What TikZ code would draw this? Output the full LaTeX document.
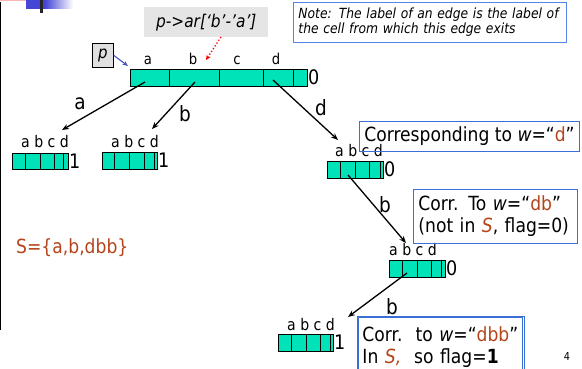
\documentclass[tikz,border=0pt]{standalone}
\usepackage{fontspec}
\setmainfont{DejaVu Sans}[FakeStretch=0.88]
\usetikzlibrary{arrows.meta}
\definecolor{teal}{HTML}{00E3B8}
\definecolor{brn}{HTML}{B5441B}
\definecolor{bxblue}{HTML}{3A6FD8}
\definecolor{noteblue}{HTML}{5585E5}
\definecolor{decoblue}{HTML}{4646D6}
\definecolor{decopink}{HTML}{F7B5B5}
\definecolor{pblue}{HTML}{4A55B5}
\newcommand\fs[2]{\fontsize{#1}{#2}\selectfont}
\newcommand\mkarr[9]{%
  \foreach \i/\l/\r in {a/#2/#3,b/#3/#4,c/#4/#5,d/#5/#6,e/#6/#7}{%
    \node[cell, minimum width={(\r-\l)*1pt}, minimum height={(#9-#8)*1pt}] (#1-\i) at ({(\l+\r)/2},{(#8+#9)/2}) {};
  }}
\tikzset{
  cell/.style={draw=black, line width=0.9pt, fill=teal, inner sep=0pt, outer sep=0pt},
  flag/.style={anchor=west, inner sep=0pt, font=\fs{20}{22}},
  clab/.style={anchor=base, inner sep=0pt, font=\fs{15}{17}},
  alab/.style={anchor=base west, inner sep=0pt, font=\fs{16}{18}},
  elab/.style={inner sep=0pt, font=\fs{21}{24}},
  edge/.style={line width=1.3pt, -{Stealth[length=7pt,width=5.5pt]}},
  blbox/.style={draw=bxblue, line width=0.9pt, anchor=north west, inner xsep=5pt, inner ysep=0pt, align=left, font=\fs{19.5}{22}},
}
\begin{document}
\begin{tikzpicture}[x=1pt,y=-1pt]
\useasboundingbox (0,0) rectangle (582,369);
% slide decoration
\fill[decopink] (0,0) rectangle (36,1.5);
\fill[decoblue] (26,0) rectangle (45,9);
\shade[left color=decoblue, right color=white] (45,0) rectangle (73,9);
\fill[black!85] (40,0) rectangle (43,13);
\draw[line width=1pt] (0.5,2) -- (0.5,330);

% note
\node[draw=noteblue, line width=0.9pt, anchor=north west, minimum width=273pt, minimum height=40pt, text width=263pt, inner xsep=5pt, inner ysep=0pt, align=left, font=\fs{14}{15}\itshape] (note) at (293,2) {Note: The label of an edge is the label of\\the cell from which this edge exits};

% p->ar label
\node[fill=black!10, anchor=north west, minimum width=124pt, minimum height=30pt, inner sep=0pt, font=\fs{17.5}{20}\itshape] (plab) at (144,7) {p->ar[‘b’-’a’]};
% p box
\node[draw=black, fill=black!12, line width=0.8pt, anchor=north west, minimum width=21pt, minimum height=24pt, inner sep=0pt, font=\fs{17}{20}\itshape] (pbox) at (92,43) {p};

% arrays
\mkarr{r}{130}{169}{219}{263}{293}{307}{69}{86}
\mkarr{ca}{12}{25}{40}{54}{63}{68}{153}{169}
\mkarr{cb}{102}{114}{129}{144}{154}{157}{152}{169}
\mkarr{dn}{327}{340}{355}{369}{380}{383}{161}{178}
\mkarr{db}{389}{402}{417}{431}{441}{445}{260}{277}
\mkarr{dbb}{278}{291}{306}{320}{330}{333}{334}{351}

% root cell labels
\node[clab] (la) at (148,65) {a};
\node[clab] (lb) at (193,65) {b};
\node[clab] (lc) at (237,65) {c};
\node[clab] (ld) at (276,65) {d};
% child labels
\node[alab] (lca) at (21,148) {a b c d};
\node[alab] (lcb) at (111,148) {a b c d};
\node[alab] (ldn) at (335,157) {a b c d};
\node[alab] (ldb) at (389,255) {a b c d};
\node[alab] (ldbb) at (287,330) {a b c d};

% flags
\node[flag] (fr) at (308,77.5) {0};
\node[flag] (fca) at (69,161) {1};
\node[flag] (fcb) at (158,160.5) {1};
\node[flag] (fdn) at (384,169.5) {0};
\node[flag] (fdb) at (446,268.5) {0};
\node[flag] (fdbb) at (334,342.5) {1};

% pointer arrows
\draw[pblue, line width=1.1pt, -{Stealth[length=5.5pt,width=4.5pt]}] (pbox.east) -- (128,66);
\coordinate (rtip) at (206,60);
\draw[red, line width=1.3pt, dotted, -{Stealth[length=5pt,width=4.5pt]}] (221,37) -- (rtip);

% edge end points
\coordinate (ta) at (62,130);
\coordinate (tb) at (152,129);
\coordinate (td) at (338,140);
\coordinate (t2) at (406,243);
\coordinate (t3) at (348,317);
\draw[edge] ([xshift=-4.5pt,yshift=-4.5pt]r-a.center) -- (ta);
\draw[edge] ([xshift=1pt,yshift=-4.5pt]r-b.center) -- (tb);
\draw[edge] ([xshift=-5pt,yshift=-2.5pt]r-d.center) -- (td);
\draw[edge] ([xshift=0.5pt,yshift=-5.5pt]dn-b.center) -- (t2);
\draw[edge] ([xshift=-2.5pt,yshift=-4.5pt]db-b.center) -- (t3);

% edge labels
\node[elab] (ela) at (80,104) {a};
\node[elab] (elb) at (185,114) {b};
\node[elab] (eld) at (321,108) {d};
\node[elab] (el2) at (385,205) {b};
\node[elab] (el3) at (392,307) {b};

% boxes
\node[blbox, minimum width=220pt, minimum height=30pt, inner xsep=0pt] (bx1) at (359,121) {Corresponding to \textit{w}=“\textcolor{brn}{d}”};
\node[blbox, minimum width=164pt, minimum height=54pt, text width=154pt] (bx2) at (413,189) {Corr. To \textit{w}=“\textcolor{brn}{db}”\\(not in \textcolor{brn}{\textit{S}}, flag=0)};
\node[blbox, draw=none, minimum width=166pt, minimum height=62pt, text width=156pt, anchor=north west] (bx3) at (357,316) {Corr.\ \ to \textit{w}=“\textcolor{brn}{dbb}”\\In \textcolor{brn}{\textit{S,}}\ \ so flag=\textbf{1}};
\draw[bxblue, line width=0.7pt] (bx3.south west) -- (bx3.north west) -- (bx3.north east) -- (bx3.south east);
\draw[bxblue, line width=0.7pt] ([xshift=1.8pt]bx3.south west) -- ([xshift=1.8pt,yshift=-1.8pt]bx3.north west) -- ([xshift=-1.8pt,yshift=-1.8pt]bx3.north east) -- ([xshift=-1.8pt]bx3.south east);

% set S
\node[anchor=base west, inner sep=0pt, text=brn, font=\fs{19.5}{22}] (setS) at (16,253) {S=\{a,b,dbb\}};
% page number
\node[inner sep=0pt, font=\fs{11}{13}] (pg) at (567,356) {4};
\end{tikzpicture}
\end{document}
